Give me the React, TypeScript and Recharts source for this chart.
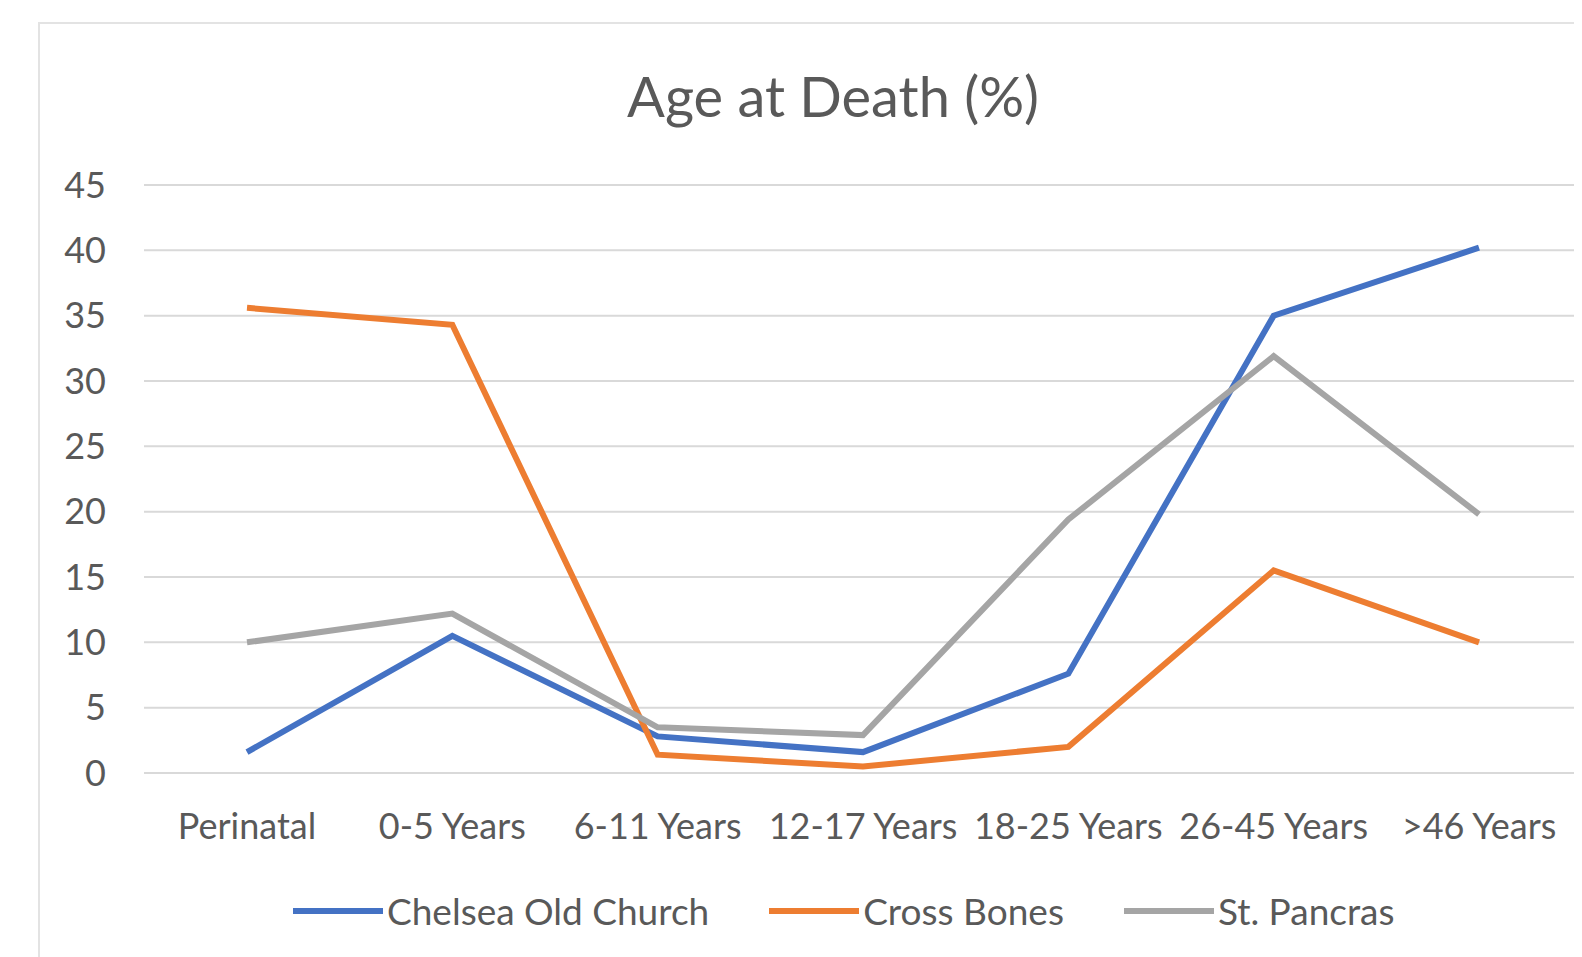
import React from "react";
import { LineChart, Line, XAxis, YAxis, CartesianGrid } from "recharts";

const categories = ["Perinatal", "0-5 Years", "6-11 Years", "12-17 Years", "18-25 Years", "26-45 Years", ">46 Years"];
const chelsea = [1.6, 10.5, 2.8, 1.6, 7.6, 35.0, 40.2];
const crossBones = [35.6, 34.3, 1.4, 0.5, 2.0, 15.5, 10.0];
const stPancras = [10.0, 12.2, 3.5, 2.9, 19.4, 31.9, 19.8];
const yTicks = [0, 5, 10, 15, 20, 25, 30, 35, 40, 45];

const seriesNames = ["Chelsea Old Church", "Cross Bones", "St. Pancras"];
const seriesColors = ["#4472C4", "#ED7D31", "#A5A5A5"];
const seriesKeys = ["chelsea", "crossBones", "stPancras"];

const data = categories.map((c, i) => ({
  name: c,
  chelsea: chelsea[i],
  crossBones: crossBones[i],
  stPancras: stPancras[i],
}));

const FONT = "Lato, 'Open Sans', sans-serif";
const TEXT = "#595959";

export default function App() {
  return (
    <div style={{ position: "relative", width: 1574, height: 949, overflow: "hidden", background: "#fff", fontFamily: FONT }}>
      <div
        style={{
          position: "absolute",
          left: 30,
          top: 14,
          width: 1600,
          height: 1000,
          border: "2px solid #e3e3e3",
          boxSizing: "border-box",
        }}
      />
      <div
        style={{
          position: "absolute",
          left: 0,
          width: 1650,
          top: 56,
          textAlign: "center",
          fontSize: 56,
          color: TEXT,
          lineHeight: "64px",
        }}
      >
        Age at Death (%)
      </div>
      <div style={{ position: "absolute", left: 0, top: 0 }}>
        <LineChart width={1574} height={949} data={data} margin={{ top: 177, right: 0, left: 0, bottom: 0 }}>
          <CartesianGrid vertical={false} stroke="#d9d9d9" strokeWidth={2} />
          <XAxis
            dataKey="name"
            height={184}
            interval={0}
            padding={{ left: 103, right: 103 }}
            axisLine={false}
            tickLine={false}
            tickSize={0}
            tickMargin={40}
            tick={{ fill: TEXT, fontSize: 36, fontFamily: FONT }}
          />
          <YAxis
            width={136}
            domain={[0, 45]}
            ticks={yTicks}
            axisLine={false}
            tickLine={false}
            tickSize={0}
            tickMargin={38}
            tick={{ fill: TEXT, fontSize: 36, fontFamily: FONT }}
          />
          {seriesKeys.map((k, i) => (
            <Line
              key={k}
              type="linear"
              dataKey={k}
              name={seriesNames[i]}
              stroke={seriesColors[i]}
              strokeWidth={6}
              dot={false}
              activeDot={false}
              isAnimationActive={false}
            />
          ))}
        </LineChart>
      </div>
      <div
        style={{
          position: "absolute",
          left: 285,
          top: 880,
          display: "flex",
          alignItems: "center",
          gap: 60,
          fontSize: 37,
          color: TEXT,
          whiteSpace: "nowrap",
        }}
      >
        {seriesNames.map((n, i) => (
          <div key={n} style={{ display: "flex", alignItems: "center" }}>
            <div style={{ width: 90, height: 6, background: seriesColors[i], marginRight: 4 }} />
            <span>{n}</span>
          </div>
        ))}
      </div>
    </div>
  );
}
